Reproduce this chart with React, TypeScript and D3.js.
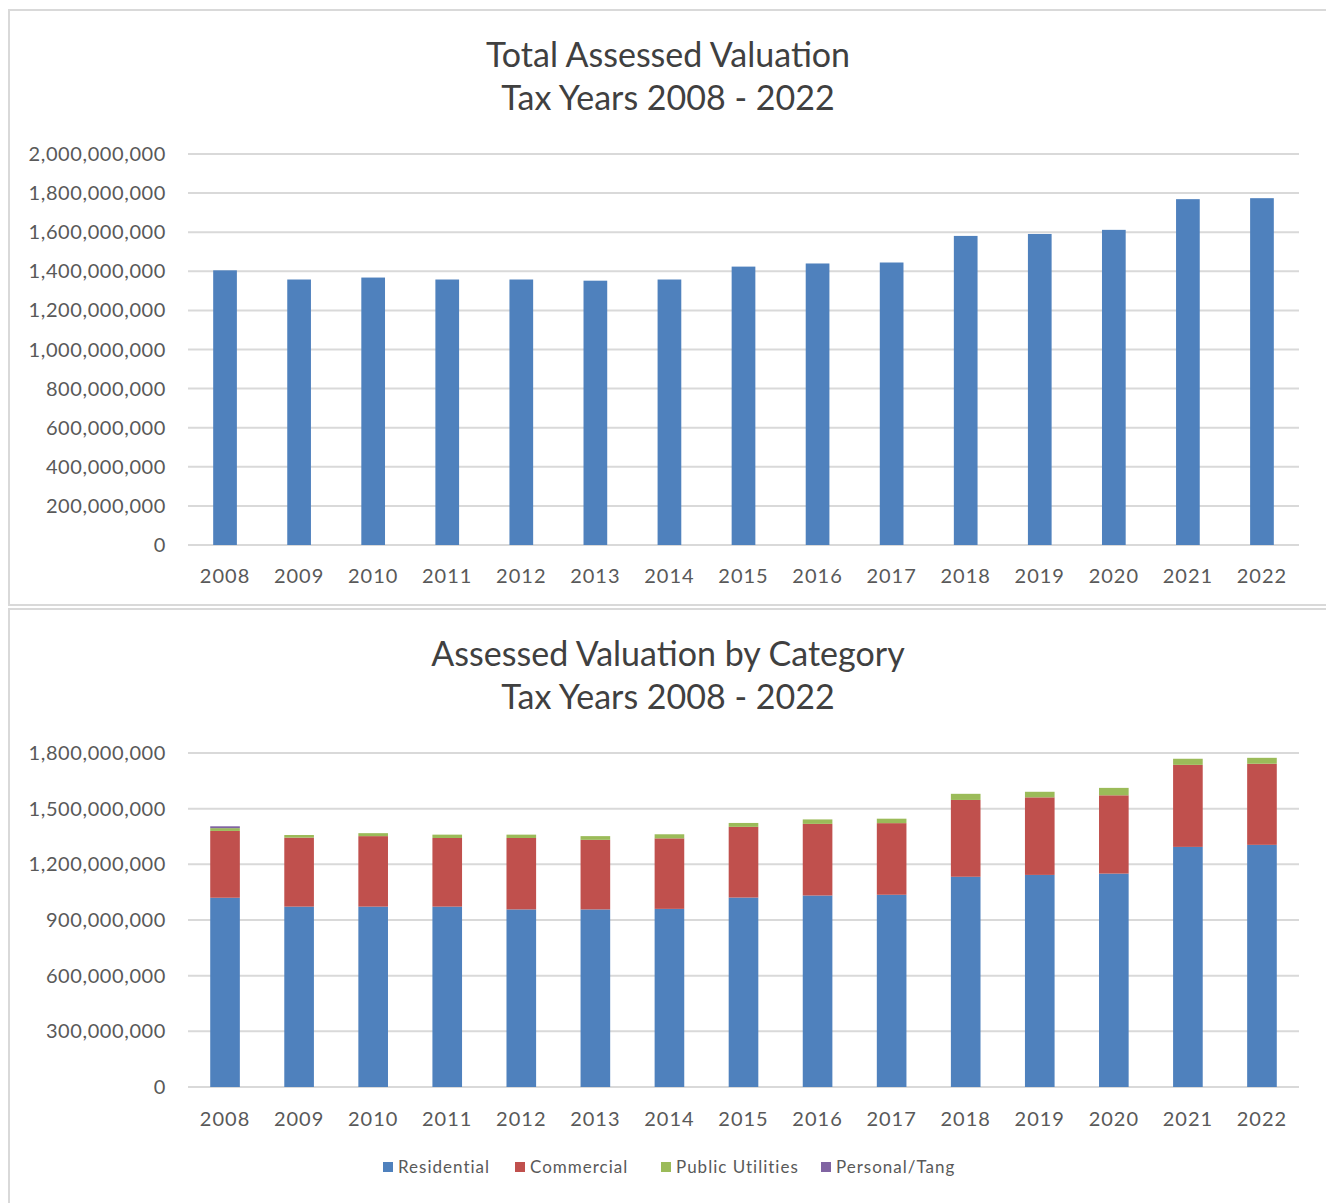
import React from "react";
import * as d3 from "d3";

const years = ["2008","2009","2010","2011","2012","2013","2014","2015","2016","2017","2018","2019","2020","2021","2022"];
// Total assessed valuation, millions
const totals = [1405, 1358, 1368, 1358, 1358, 1352, 1358, 1424, 1440, 1445, 1581, 1591, 1612, 1769, 1774];
// By category, millions
const residential = [1020, 972, 972, 972, 957, 957, 960, 1021, 1032, 1036, 1133, 1143, 1150, 1294, 1305];
const commercial = [360, 372, 380, 370, 385, 375, 380, 381, 386, 386, 414, 418, 422, 442, 437];
const publicUtilities = [15, 14, 16, 18, 18, 20, 22, 21, 24, 24, 33, 30, 40, 33, 32];
const personalTang = [10, 0, 0, 0, 0, 0, 0, 0, 0, 0, 0, 0, 0, 0, 0];
const seriesNames = ["Residential", "Commercial", "Public Utilities", "Personal/Tang"];
const seriesColors = ["#4f81bd", "#c0504d", "#9bbb59", "#8064a2"];
const topTicks = [0, 200, 400, 600, 800, 1000, 1200, 1400, 1600, 1800, 2000];
const bottomTicks = [0, 300, 600, 900, 1200, 1500, 1800];

const FONT = "Lato, 'Open Sans', sans-serif";
const fmt = (m: number) => d3.format(",")(m * 1000000);

export default function App() {
  const W = 1326, H = 1203;
  const x0 = 188, x1 = 1299;

  const xTop = d3.scaleBand<string>().domain(years).range([x0, x1]).paddingInner(0.68).paddingOuter(0.34);
  const yTop = d3.scaleLinear().domain([0, 2000]).range([545, 154]);

  const xBot = d3.scaleBand<string>().domain(years).range([x0, x1]).paddingInner(0.6).paddingOuter(0.3);
  const yBot = d3.scaleLinear().domain([0, 1800]).range([1087, 753]);

  const rows = years.map((y, i) => ({
    year: y,
    Residential: residential[i],
    Commercial: commercial[i],
    "Public Utilities": publicUtilities[i],
    "Personal/Tang": personalTang[i],
  }));
  const stacked = d3.stack<any>().keys(seriesNames)(rows);

  const xl = d3.scaleBand<string>().domain(years).range([x0, x1]);

  const legendX = [383, 515, 661, 821];

  const titleProps = { textAnchor: "middle" as const, dominantBaseline: "middle" as const, fontSize: 34, fill: "#404040", letterSpacing: 0 };
  const yLabProps = { textAnchor: "end" as const, dominantBaseline: "middle" as const, fontSize: 20, fill: "#595959", letterSpacing: 0.6, dy: 2 };
  const xLabProps = { textAnchor: "middle" as const, dominantBaseline: "middle" as const, fontSize: 20, fill: "#595959", letterSpacing: 1 };

  return (
    <svg width={W} height={H} style={{ position: "absolute", left: 0, top: 0, background: "#fff" }} fontFamily={FONT}>
      <rect x={0} y={0} width={W} height={H} fill="#fff" />
      {/* panels */}
      <rect x={9} y={10} width={1340} height={595} fill="#fff" stroke="#d9d9d9" strokeWidth={2} />
      <rect x={9} y={609} width={1340} height={610} fill="#fff" stroke="#d9d9d9" strokeWidth={2} />

      {/* top chart */}
      <text x={668} y={58} {...titleProps}>Total Assessed Valuation</text>
      <text x={668} y={101} {...titleProps}>Tax Years 2008 - 2022</text>
      {topTicks.map((t) => (
        <g key={"tt" + t}>
          <line x1={x0} x2={x1} y1={yTop(t)} y2={yTop(t)} stroke="#d9d9d9" strokeWidth={2} />
          <text x={166} y={yTop(t)} {...yLabProps}>{fmt(t)}</text>
        </g>
      ))}
      {years.map((y, i) => (
        <rect key={"tb" + y} x={xTop(y)} width={xTop.bandwidth()} y={yTop(totals[i])} height={yTop(0) - yTop(totals[i])} fill="#4f81bd" />
      ))}
      {years.map((y) => (
        <text key={"tx" + y} x={(xl(y) as number) + xl.bandwidth() / 2} y={578} {...xLabProps}>{y}</text>
      ))}

      {/* bottom chart */}
      <text x={668} y={657} {...titleProps}>Assessed Valuation by Category</text>
      <text x={668} y={700} {...titleProps}>Tax Years 2008 - 2022</text>
      {bottomTicks.map((t) => (
        <g key={"bt" + t}>
          <line x1={x0} x2={x1} y1={yBot(t)} y2={yBot(t)} stroke="#d9d9d9" strokeWidth={2} />
          <text x={166} y={yBot(t)} {...yLabProps}>{fmt(t)}</text>
        </g>
      ))}
      {stacked.map((s, si) => (
        <g key={"s" + si} fill={seriesColors[si]}>
          {s.map((d: any, i: number) => (
            d[1] - d[0] > 0 ? (
              <rect key={i} x={xBot(years[i])} width={xBot.bandwidth()} y={yBot(d[1])} height={yBot(d[0]) - yBot(d[1])} />
            ) : null
          ))}
        </g>
      ))}
      {years.map((y) => (
        <text key={"bx" + y} x={(xl(y) as number) + xl.bandwidth() / 2} y={1121} {...xLabProps}>{y}</text>
      ))}

      {/* legend */}
      {seriesNames.map((n, i) => (
        <g key={"lg" + n}>
          <rect x={legendX[i]} y={1162} width={10} height={10} fill={seriesColors[i]} />
          <text x={legendX[i] + 15} y={1169} dominantBaseline="middle" fontSize={17} fill="#595959" letterSpacing={1}>{n}</text>
        </g>
      ))}
    </svg>
  );
}
